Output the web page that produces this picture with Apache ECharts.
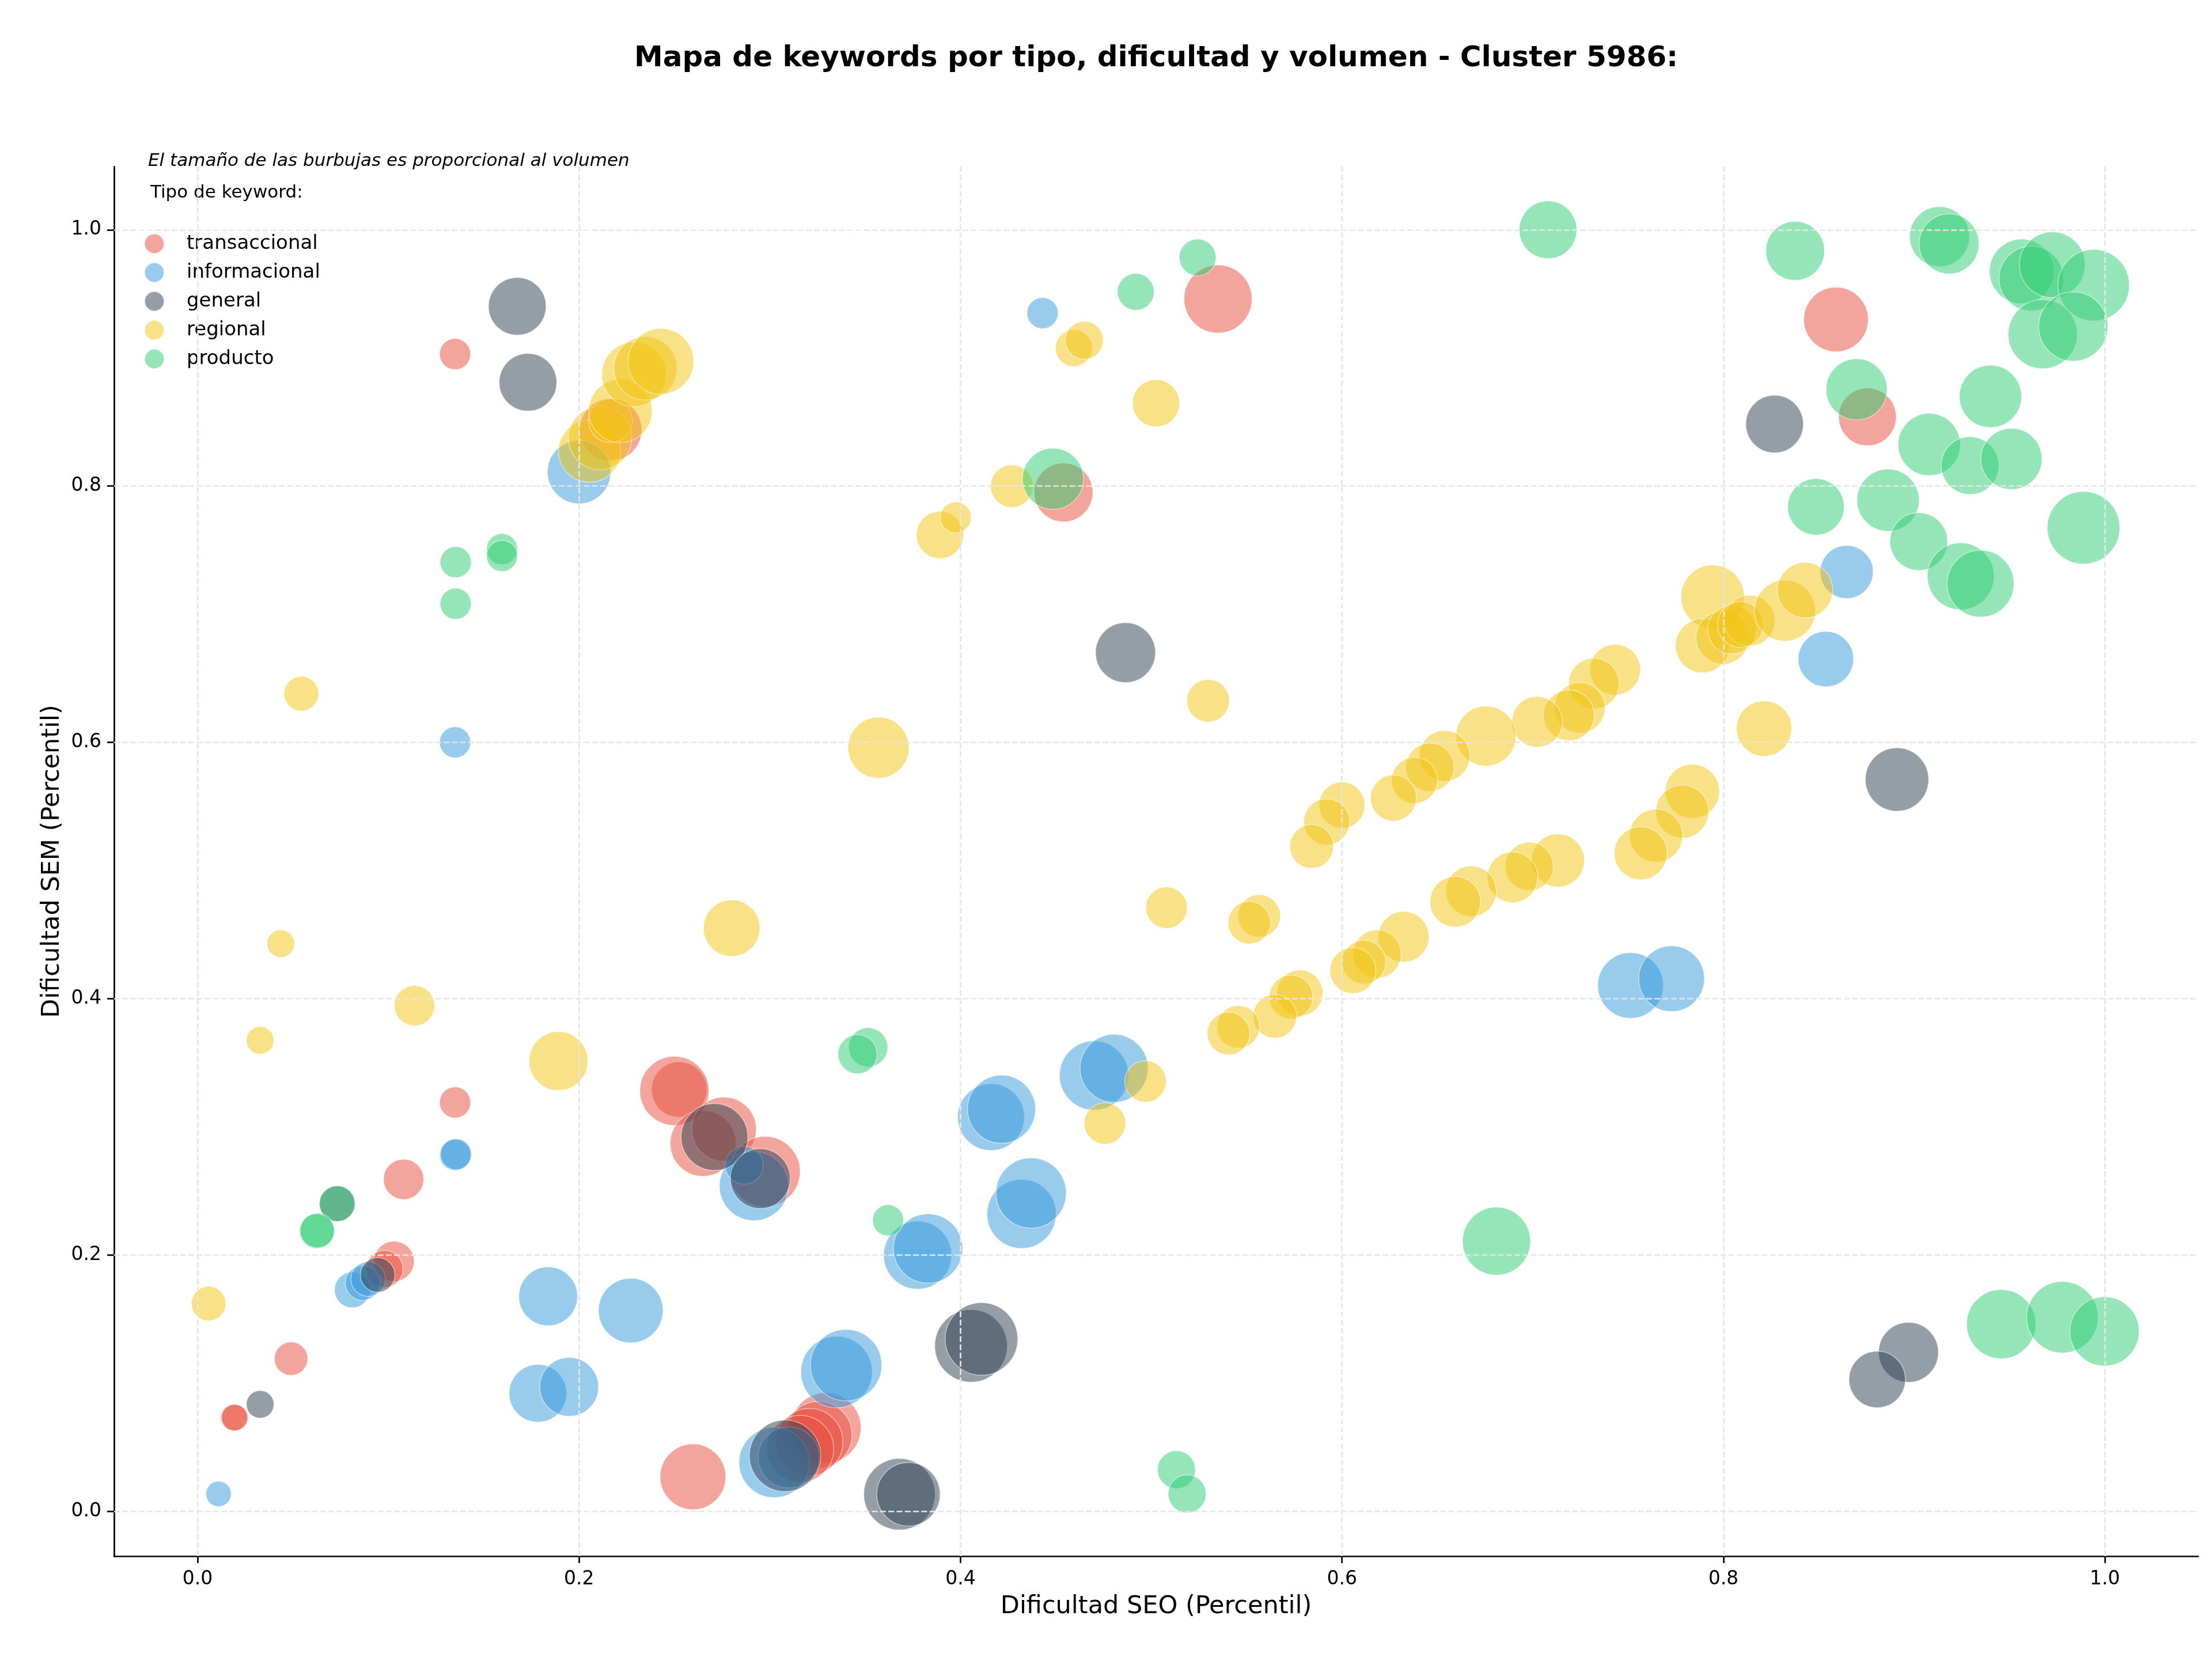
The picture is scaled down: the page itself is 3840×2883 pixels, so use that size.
<!DOCTYPE html>
<html>
<head>
<meta charset="utf-8">
<script src="https://cdn.jsdelivr.net/npm/echarts@6/dist/echarts.min.js"></script>
<style>
html,body{margin:0;padding:0;background:#fff;}
#chart{width:3840px;height:2883px;}
</style>
</head>
<body>
<div id="chart"></div>
<script>
// ---- Data (x = Dificultad SEO percentil, y = Dificultad SEM percentil, vol = volumen relativo) ----
const categories = ['transaccional', 'informacional', 'general', 'regional', 'producto'];
const tickValues = [0, 0.2, 0.4, 0.6, 0.8, 1.0];

const transX = [0.135,0.535,0.859,0.8755,0.454,0.2166,0.135,0.108,0.103,0.098,0.049,0.019,0.0195,0.2525,0.250,0.265,0.276,0.2975,0.3294,0.3256,0.3208,0.316,0.2597];
const transY = [0.903,0.946,0.930,0.854,0.795,0.844,0.319,0.259,0.195,0.189,0.119,0.073,0.073,0.329,0.328,0.287,0.298,0.265,0.065,0.0595,0.054,0.0486,0.0268];
const transVol = [729,3481,3136,2500,2601,2916,729,1225,1225,1024,841,529,529,2304,3600,3249,3136,3721,3721,3364,3364,3364,3249];

const infoX = [0.443,0.200,0.135,0.135,0.1355,0.8646,0.8537,0.7513,0.7728,0.470,0.4805,0.416,0.4215,0.432,0.437,0.3775,0.383,0.2917,0.2866,0.1838,0.2271,0.1784,0.1948,0.335,0.340,0.3023,0.310,0.0811,0.0865,0.0894,0.011];
const infoY = [0.935,0.811,0.600,0.278,0.2785,0.733,0.665,0.4103,0.4155,0.340,0.3456,0.3075,0.3137,0.232,0.2483,0.1998,0.205,0.2537,0.270,0.1677,0.1566,0.092,0.097,0.1086,0.114,0.038,0.042,0.1727,0.178,0.1812,0.0135];
const infoVol = [729,3025,729,729,729,2116,2304,3249,3249,3600,3481,3364,3481,3600,3721,3481,3600,3600,1089,2601,3136,2500,2601,3844,3844,3721,2809,961,900,900,484];

const genX = [0.1676,0.1732,0.8268,0.4865,0.891,0.897,0.8806,0.271,0.295,0.4055,0.411,0.368,0.3727,0.308,0.0944,0.0732,0.0328];
const genY = [0.9403,0.881,0.8484,0.670,0.571,0.124,0.1028,0.292,0.2595,0.129,0.1344,0.0132,0.0132,0.0432,0.1844,0.240,0.0834];
const genVol = [2500,2500,2500,2704,3025,2704,2401,3364,2704,3969,3969,3844,3025,3844,900,961,576];

const regX = [0.0544,0.0436,0.0328,0.1137,0.0058,0.1892,0.280,0.357,0.3892,0.3975,0.4269,0.4594,0.4649,0.5025,0.5298,0.508,0.497,0.4757,
  0.2055,0.211,0.2165,0.2217,0.2288,0.2348,0.2429,
  0.7943,0.789,0.7995,0.8044,0.8137,0.809,0.8322,0.8428,0.8213,
  0.7432,0.7321,0.7247,0.719,0.7023,0.6755,0.6538,0.6461,0.638,0.627,0.600,0.592,0.5841,
  0.7837,0.7784,0.7647,0.7566,0.7132,0.6982,0.6894,0.6677,0.6594,0.6323,0.6184,0.6115,0.6057,0.5779,0.5733,0.5648,0.5456,0.5405,0.5566,0.5514];
const regY = [0.638,0.443,0.3674,0.3945,0.162,0.3513,0.455,0.5958,0.7619,0.7755,0.800,0.9077,0.9137,0.8647,0.6325,0.471,0.3354,0.3026,
  0.8273,0.8375,0.851,0.8587,0.8872,0.8919,0.8973,
  0.7136,0.6754,0.6816,0.688,0.695,0.692,0.7028,0.7188,0.6108,
  0.6567,0.6459,0.627,0.6211,0.616,0.605,0.5894,0.5806,0.5703,0.5566,0.551,0.538,0.5188,
  0.5618,0.546,0.5272,0.5135,0.5078,0.5032,0.4947,0.4838,0.4756,0.4483,0.4348,0.4285,0.4219,0.4044,0.4013,0.3862,0.378,0.3728,0.4645,0.4593];
const regVol = [900,576,576,1225,900,2601,2401,2809,1681,729,1369,1024,1089,1681,1369,1296,1296,1296,
  2916,3025,1444,3025,3136,3025,3249,
  3025,2209,2116,1764,1936,1600,2809,2304,2304,
  1936,1936,1936,1936,1936,2704,1936,1764,1600,1600,1600,1600,1444,
  2209,2116,2116,2116,2116,1764,1936,1936,1936,1936,1764,1444,1600,1600,1444,1444,1369,1369,1369,1369];

const prodX = [0.5243,0.4919,0.4485,0.1596,0.1596,0.1353,0.1353,0.3516,0.346,0.362,0.0732,0.0624,0.0628,0.681,0.9456,0.9777,0.9998,0.5132,0.5188,0.708,
  0.8376,0.9133,0.9183,0.9564,0.9614,0.9724,0.9941,0.9674,0.9834,0.8698,0.940,0.9079,0.9293,0.951,0.8485,0.8863,0.9024,0.9244,0.9348,0.9888];
const prodY = [0.9784,0.9516,0.8057,0.7508,0.7454,0.7406,0.7082,0.362,0.3566,0.227,0.240,0.2185,0.219,0.2107,0.146,0.1514,0.1403,0.0324,0.0135,1.0,
  0.9836,0.9947,0.989,0.9676,0.9619,0.9727,0.9568,0.9186,0.9245,0.8755,0.870,0.8324,0.816,0.8212,0.7838,0.789,0.7567,0.7296,0.7239,0.7675];
const prodVol = [1024,1024,2809,729,729,729,729,1156,1156,729,961,900,900,3481,3600,3844,3600,1089,1089,2500,
  2601,2704,2704,3136,3136,3249,3844,3600,3600,2809,2916,2916,2500,2809,2401,2916,2500,3364,3364,3969];

// ---- Styling ----
const palette = ['#e74c3c', '#3498db', '#2c3e50', '#f1c40f', '#2ecc71'];
const FONT = '"DejaVu Sans", "Liberation Sans", sans-serif';
const seriesData = [
  [transX, transY, transVol],
  [infoX, infoY, infoVol],
  [genX, genY, genVol],
  [regX, regY, regVol],
  [prodX, prodY, prodVol]
];

const chart = echarts.init(document.getElementById('chart'), null, {renderer: 'canvas', devicePixelRatio: 1});

const gridLineStyle = {color: '#e6e6e6', width: 2.7, type: [10, 4.3]};

const series = [{
  name: '_grid',
  type: 'scatter',
  data: [],
  z: 1,
  silent: true,
  markLine: {
    silent: true,
    animation: false,
    symbol: ['none', 'none'],
    label: {show: false},
    lineStyle: gridLineStyle,
    emphasis: {disabled: true},
    data: tickValues.map(v => ({xAxis: v})).concat(tickValues.map(v => ({yAxis: v})))
  }
}];

categories.forEach((name, k) => {
  const [xs, ys, vs] = seriesData[k];
  series.push({
    name: name,
    type: 'scatter',
    z: 2,
    data: xs.map((x, i) => [x, ys[i], vs[i]]),
    symbolSize: d => 2 * Math.sqrt(d[2]),
    itemStyle: {color: palette[k], opacity: 0.5, borderColor: '#ffffff', borderWidth: 1.5},
    emphasis: {disabled: true}
  });
});

const axisCommon = {
  type: 'value',
  nameLocation: 'middle',
  nameTextStyle: {fontFamily: FONT, fontSize: 43, color: '#000'},
  splitLine: {show: false},
  axisLine: {show: true, onZero: false, lineStyle: {color: '#000', width: 2.7}},
  axisTick: {show: true, inside: false, length: 12, customValues: tickValues, lineStyle: {color: '#000', width: 2.7}},
  axisLabel: {customValues: tickValues, fontFamily: FONT, fontSize: 33, color: '#000', formatter: v => v.toFixed(1)}
};

const option = {
  animation: false,
  backgroundColor: '#ffffff',
  textStyle: {fontFamily: FONT},
  grid: {left: 198, right: 24, top: 289, bottom: 182, containLabel: false},
  xAxis: Object.assign({}, axisCommon, {
    name: 'Dificultad SEO (Percentil)', nameGap: 66, min: -0.0438, max: 1.0489,
    axisLabel: Object.assign({}, axisCommon.axisLabel, {margin: 24})
  }),
  yAxis: Object.assign({}, axisCommon, {
    name: 'Dificultad SEM (Percentil)', nameGap: 84, min: -0.0351, max: 1.0494,
    axisLabel: Object.assign({}, axisCommon.axisLabel, {margin: 22})
  }),
  legend: {
    data: categories,
    orient: 'vertical',
    left: 245,
    top: 400,
    itemWidth: 34,
    itemHeight: 34,
    itemGap: 14,
    icon: 'circle',
    itemStyle: {opacity: 0.5},
    textStyle: {fontFamily: FONT, fontSize: 34, color: '#000', padding: [0, 0, 0, 34]}
  },
  graphic: [
    {type: 'text', x: 2007, y: 102, silent: true,
     style: {text: 'Mapa de keywords por tipo, dificultad y volumen - Cluster 5986:', font: 'bold 50px ' + FONT, fill: '#000',
             align: 'center', verticalAlign: 'middle', textAlign: 'center', textVerticalAlign: 'middle'}},
    {type: 'text', x: 257, y: 280, silent: true,
     style: {text: 'El tamaño de las burbujas es proporcional al volumen', font: 'italic 31px ' + FONT, fill: '#000',
             align: 'left', verticalAlign: 'middle', textAlign: 'left', textVerticalAlign: 'middle'}},
    {type: 'text', x: 261, y: 335, silent: true,
     style: {text: 'Tipo de keyword:', font: '31px ' + FONT, fill: '#000',
             align: 'left', verticalAlign: 'middle', textAlign: 'left', textVerticalAlign: 'middle'}}
  ],
  series: series
};

chart.setOption(option);
</script>
</body>
</html>
